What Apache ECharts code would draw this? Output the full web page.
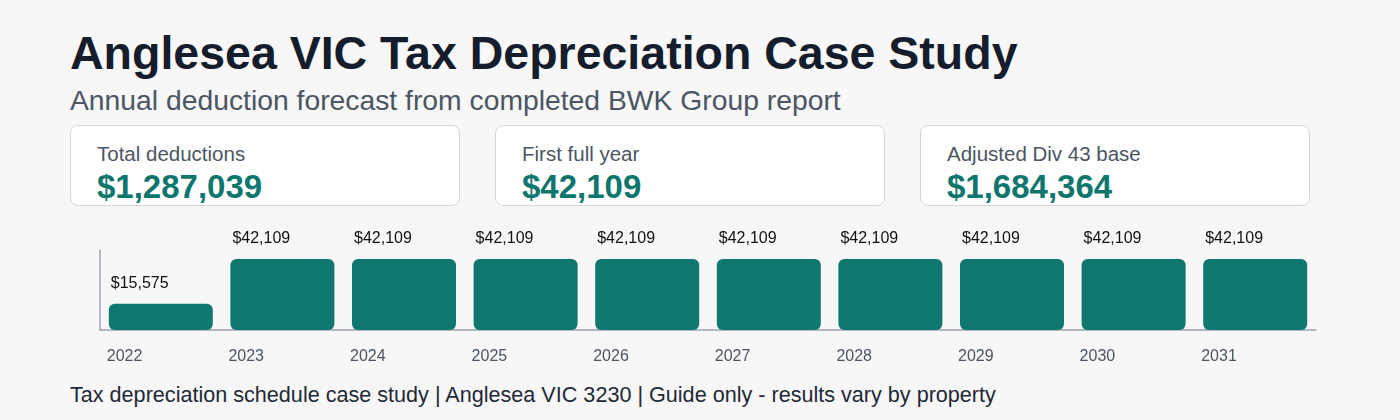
<!DOCTYPE html>
<html>
<head>
<meta charset="utf-8">
<script src="https://cdn.jsdelivr.net/npm/echarts@6/dist/echarts.min.js"></script>
<style>
  body { margin: 0; width: 1400px; height: 420px; background: #f6f7f6; font-family: "Liberation Sans", Arial, sans-serif; position: relative; overflow: hidden; }
  h1 { position: absolute; left: 70px; top: 26px; margin: 0; font-size: 46.5px; font-weight: bold; color: #151c2c; }
  .sub { position: absolute; left: 70px; top: 84px; font-size: 28.3px; color: #4b5563; }
  .card { position: absolute; top: 125px; width: 388px; height: 79px; background: #fff; border: 1px solid #d4d7db; border-radius: 8px; }
  .card .lbl { position: absolute; left: 26px; top: 16px; font-size: 20.5px; color: #4b5563; }
  .card .val { position: absolute; left: 26px; top: 42px; font-size: 33px; font-weight: bold; color: #0f766e; }
  #chart { position: absolute; left: 0; top: 220px; width: 1400px; height: 160px; }
  .foot { position: absolute; left: 70px; top: 382px; font-size: 21.6px; color: #1f2937; }
</style>
</head>
<body>
<h1>Anglesea VIC Tax Depreciation Case Study</h1>
<div class="sub">Annual deduction forecast from completed BWK Group report</div>
<div class="card" style="left:70px"><div class="lbl">Total deductions</div><div class="val">$1,287,039</div></div>
<div class="card" style="left:495px"><div class="lbl">First full year</div><div class="val">$42,109</div></div>
<div class="card" style="left:920px"><div class="lbl">Adjusted Div 43 base</div><div class="val">$1,684,364</div></div>
<div id="chart"></div>
<div class="foot">Tax depreciation schedule case study | Anglesea VIC 3230 | Guide only - results vary by property</div>
<script>
// 年份
const years = ['2022', '2023', '2024', '2025', '2026', '2027', '2028', '2029', '2030', '2031']
// 每年折旧额
const deductions = [15575, 42109, 42109, 42109, 42109, 42109, 42109, 42109, 42109, 42109]

const chart = echarts.init(document.getElementById('chart'))
const fmt = v => '$' + v.toLocaleString('en-US')

chart.setOption({
  animation: false,
  grid: { left: 100, right: 84, top: 30, bottom: 50 },
  xAxis: {
    type: 'category',
    data: years,
    axisLine: { lineStyle: { color: '#9ca3af', width: 1.5 } },
    axisTick: { show: false },
    axisLabel: {
      color: '#4b5563', fontSize: 16, margin: 19, align: 'left',
      fontFamily: 'Liberation Sans', padding: [0, 0, 0, -54]
    }
  },
  yAxis: {
    type: 'value', min: 0, max: 47450,
    splitLine: { show: false },
    axisLabel: { show: false },
    axisTick: { show: false },
    axisLine: { show: true, lineStyle: { color: '#9ca3af', width: 1.5 } }
  },
  series: [{
    type: 'bar',
    data: deductions,
    barWidth: 104,
    itemStyle: { color: '#10776e', borderRadius: 6 },
    label: {
      show: true,
      position: [2, -28],
      color: '#111',
      fontSize: 16,
      fontFamily: 'Liberation Sans',
      formatter: p => fmt(p.value)
    }
  }]
})
</script>
</body>
</html>
